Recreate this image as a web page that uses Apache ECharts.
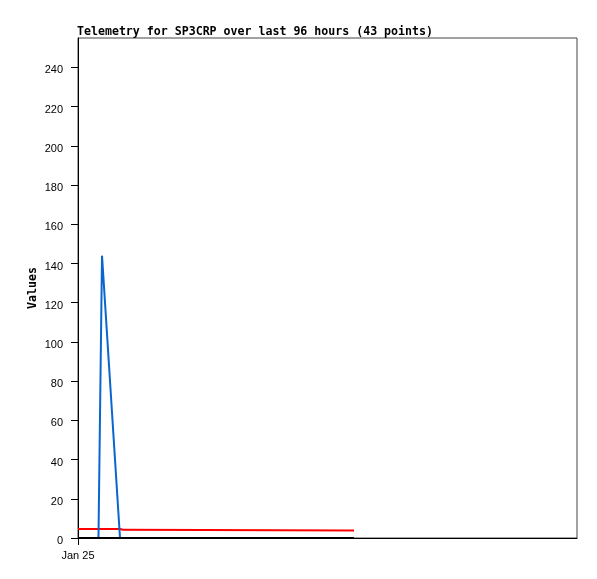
<!DOCTYPE html>
<html>
<head>
<meta charset="utf-8">
<script src="https://cdn.jsdelivr.net/npm/echarts@6/dist/echarts.min.js"></script>
<style>html,body{margin:0;padding:0;background:#fff}#c{width:597px;height:579px}</style>
</head>
<body>
<div id="c"></div>
<script>
// hours since Jan 25 00:00
var times      = [0,   3.94, 4.62, 8.08, 8.45, 8.65, 9.3, 9.5, 53.1];
var redValues  = [4.6, 4.6,  4.6,  4.6,  4.6,  4.2,  4.2, 3.8, 3.8];
var blueValues = [0,   0,    144,  0,    0,    0,    0,   0,   0];
var blackValues= [0,   0,    0,    0,    0,    0,    0,   0,   0];
var yTicks = [0,20,40,60,80,100,120,140,160,180,200,220,240];
var xTickValues = [0];
var xTickLabels = ['Jan 25'];

function pairs(vals){ return times.map(function(t,i){ return [t, vals[i]]; }); }

var chart = echarts.init(document.getElementById('c'), null, {renderer:'canvas'});
chart.setOption({
  animation:false,
  backgroundColor:'#fff',
  title:{
    text:'Telemetry for SP3CRP over last 96 hours (43 points)',
    left:77, top:26, padding:0,
    textStyle:{fontFamily:'DejaVu Sans Mono', fontWeight:'bold', fontSize:11.6, color:'#000'}
  },
  grid:{left:78, right:20, top:38, bottom:41, show:true, borderColor:'#444', borderWidth:1, containLabel:false},
  xAxis:{
    type:'value', min:0, max:96,
    axisLine:{show:true, onZero:false, lineStyle:{color:'#000', width:1}},
    splitLine:{show:false},
    axisTick:{show:true, length:7, customValues:xTickValues, lineStyle:{color:'#000'}},
    axisLabel:{customValues:xTickValues, margin:12, color:'#000', fontFamily:'Liberation Sans', fontSize:11,
      formatter:function(v){ var i=xTickValues.indexOf(v); return i>=0?xTickLabels[i]:''; }}
  },
  yAxis:{
    type:'value', min:0, max:255,
    name:'Values', nameLocation:'middle', nameGap:39, nameRotate:90, nameMoveOverlap:false,
    nameTextStyle:{fontFamily:'DejaVu Sans Mono', fontWeight:'bold', fontSize:11.6, color:'#000'},
    axisLine:{show:true, lineStyle:{color:'#000', width:1}},
    splitLine:{show:false},
    axisTick:{show:true, length:7, customValues:yTicks, lineStyle:{color:'#000'}},
    axisLabel:{customValues:yTicks, margin:15, color:'#000', fontFamily:'Liberation Sans', fontSize:11,
      formatter:function(v){ return '{a|' + v + '}'; },
      rich:{a:{padding:[6,0,0,0], color:'#000', fontFamily:'Liberation Sans', fontSize:11}}}
  },
  series:[
    {type:'line', data:pairs(redValues), showSymbol:false, lineStyle:{color:'#ff0000', width:2}, itemStyle:{color:'#ff0000'}},
    {type:'line', data:pairs(blueValues), showSymbol:false, lineStyle:{color:'#0a66cc', width:2}, itemStyle:{color:'#0a66cc'}},
    {type:'line', data:pairs(blackValues), showSymbol:false, lineStyle:{color:'#000', width:2}, itemStyle:{color:'#000'}}
  ]
});
</script>
</body>
</html>
